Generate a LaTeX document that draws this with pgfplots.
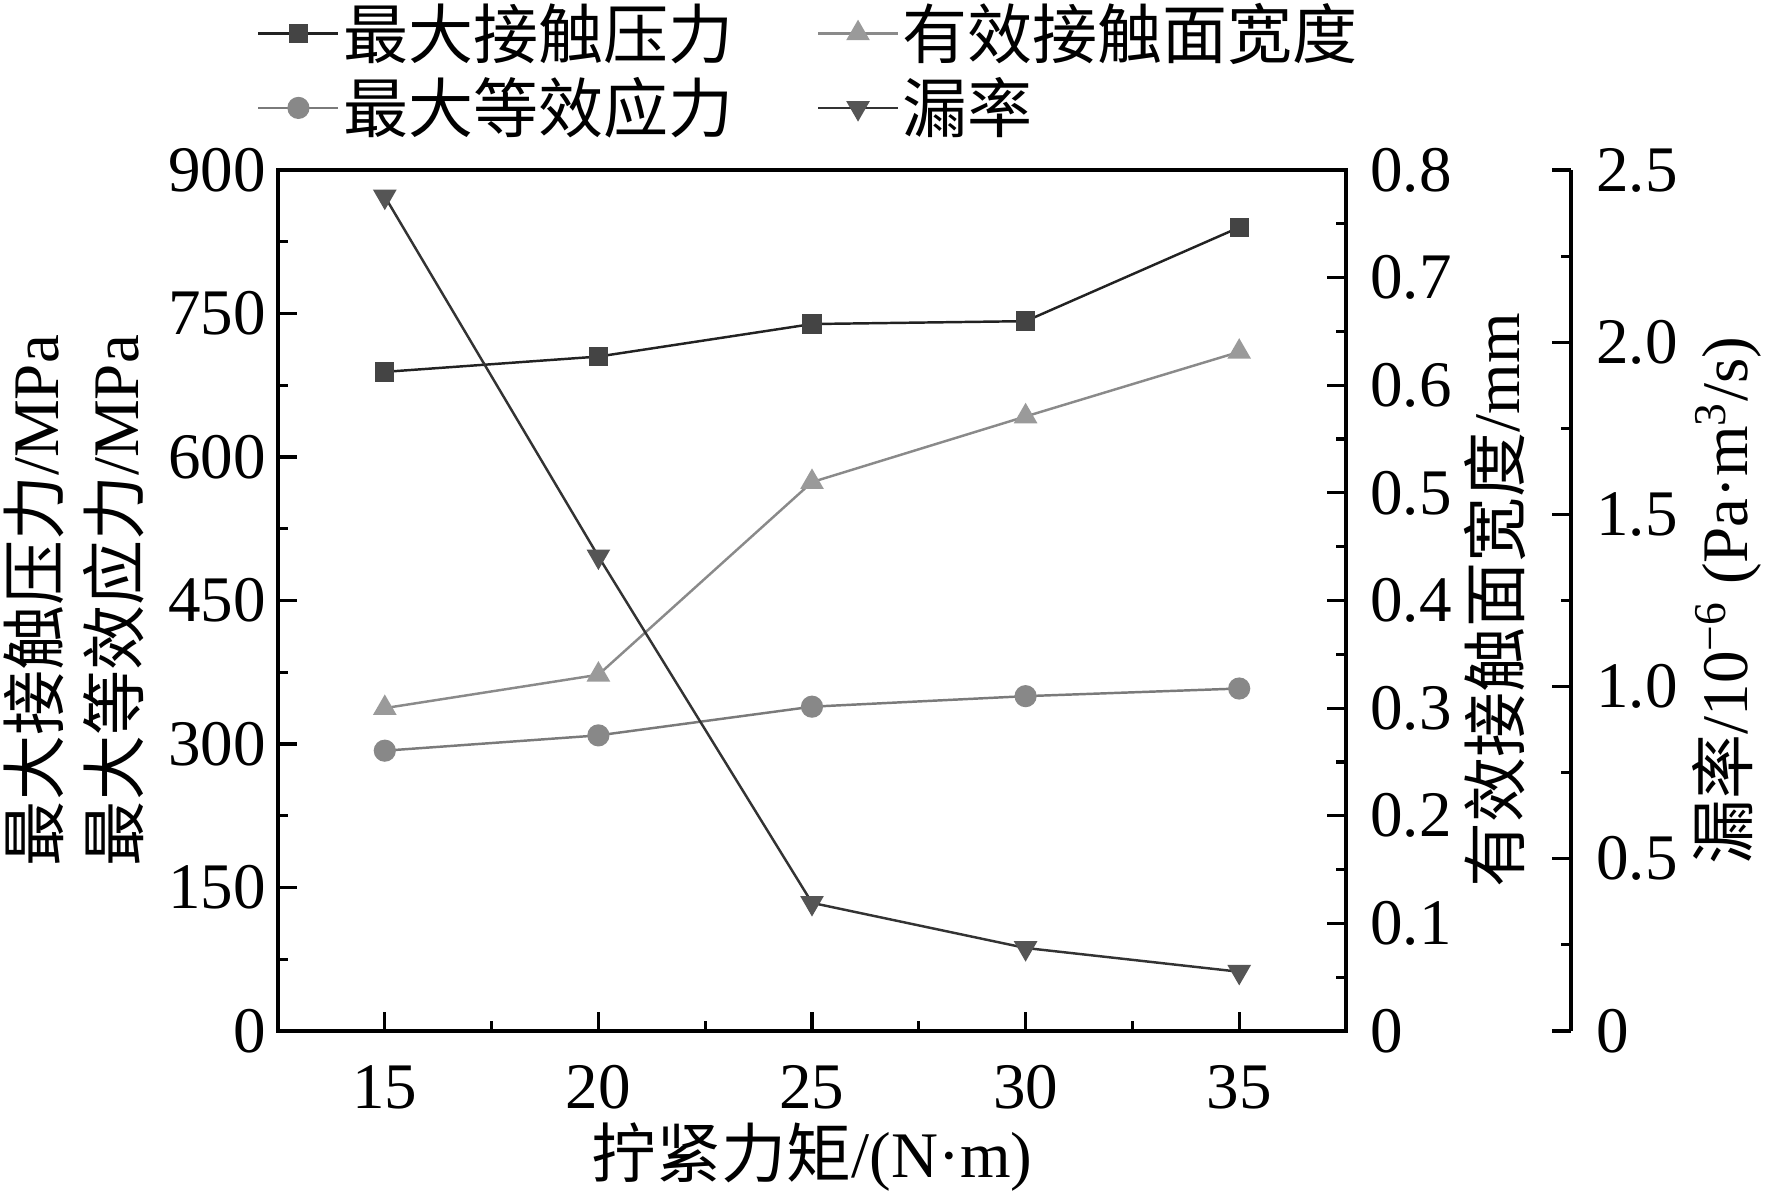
\documentclass[border=0pt]{standalone}
\usepackage{pgfplots}
\pgfplotsset{compat=1.18}
\usepackage{fontspec}
\setmainfont{Liberation Serif}
\newfontfamily\cjk{Noto Sans CJK SC}
\definecolor{cP}{HTML}{444444}
\definecolor{cPl}{HTML}{222222}
\definecolor{cW}{HTML}{9A9A9A}
\definecolor{cWl}{HTML}{8A8A8A}
\definecolor{cS}{HTML}{888888}
\definecolor{cSl}{HTML}{7A7A7A}
\definecolor{cL}{HTML}{555555}
\definecolor{cLl}{HTML}{333333}
\pgfplotsset{
  base/.style={
    width=106.8mm, height=86.1mm, scale only axis,
    xmin=12.5, xmax=37.5,
    tick align=inside,
    major tick length=1.9mm, minor tick length=1.0mm,
    every tick/.style={black, line width=0.9pt},
    axis line style={black, line width=1.1pt, -},
    /pgf/number format/assume math mode=true,
    tick label style={font=\fontsize{18.5}{20}\selectfont},
    label style={font=\fontsize{18.5}{22.7}\selectfont},
  },
}
\begin{document}
\begin{tikzpicture}
\path[use as bounding box] (-27.8mm,-16.5mm) rectangle (149.4mm,103.1mm);
% main axis
\begin{axis}[base,
  ymin=0, ymax=900,
  ytick={0,150,...,900}, minor ytick={75,225,...,825},
  xtick={15,20,25,30,35}, minor xtick={17.5,22.5,27.5,32.5},
  xtick pos=bottom, ytick pos=left,
  xticklabel style={yshift=-2.2mm},
  xlabel={{\cjk 拧紧力矩}/(N·m)},
  xlabel style={at={(axis description cs:0.5,0)}, anchor=center, yshift=-12.6mm},
  ylabel={{\cjk 最大接触压力}/MPa\\{\cjk 最大等效应力}/MPa},
  ylabel style={align=center, at={(axis description cs:-0.191,0.5)}, anchor=center},
  legend columns=2,
  legend cell align=left,
  legend style={draw=none, fill=none, at={(axis description cs:-0.03,1.211)}, anchor=north west,
    font=\fontsize{18.5}{20}\selectfont\cjk,
    row sep=0mm,
    nodes={inner xsep=1pt},
    /tikz/every even column/.append style={column sep=8mm}},
  legend image code/.code={\draw[mark repeat=2,mark phase=2,#1] plot coordinates {(0cm,0cm)(0.4cm,0cm)(0.8cm,0cm)};},
]
\addplot[color=cPl, line width=0.7pt, mark=square*, mark size=2.4pt, mark options={fill=cP, draw=cP}]
  coordinates {(15,689) (20,705) (25,739) (30,742) (35,840)};
\addlegendentry{最大接触压力}
\addlegendimage{color=cWl, line width=0.7pt, mark=triangle*, mark size=3.2pt, mark options={fill=cW, draw=cW}}
\addlegendentry{有效接触面宽度}
\addplot[color=cSl, line width=0.7pt, mark=*, mark size=2.8pt, mark options={fill=cS, draw=cS}]
  coordinates {(15,293) (20,309) (25,339) (30,350) (35,358)};
\addlegendentry{最大等效应力}
\addlegendimage{color=cLl, line width=0.7pt, mark=triangle*, mark size=3.2pt, mark options={fill=cL, draw=cL, rotate=180}}
\addlegendentry{漏率}
\end{axis}
% second axis: width
\begin{axis}[base,
  ymin=0, ymax=0.8,
  hide x axis,
  axis y line*=right,
  ytick={0,0.1,...,0.8}, minor ytick={0.05,0.15,...,0.75},
  yticklabels={0,0.1,0.2,0.3,0.4,0.5,0.6,0.7,0.8},
  yticklabel style={xshift=1.2mm},
  ylabel={{\cjk 有效接触面宽度}/mm},
  ylabel style={at={(axis description cs:1.139,0.5)}, anchor=center},
]
\addplot[color=cWl, line width=0.7pt, mark=triangle*, mark size=3.2pt, mark options={fill=cW, draw=cW}]
  coordinates {(15,0.300) (20,0.331) (25,0.510) (30,0.571) (35,0.631)};
\end{axis}
% third: leak data
\begin{axis}[base,
  ymin=0, ymax=2.5,
  hide x axis, hide y axis,
]
\addplot[color=cLl, line width=0.7pt, mark=triangle*, mark size=3.2pt, mark options={fill=cL, draw=cL, rotate=180}]
  coordinates {(15,2.423) (20,1.378) (25,0.372) (30,0.241) (35,0.172)};
\end{axis}
% offset axis for leak
\begin{axis}[base,
  xshift=22.5mm,
  ymin=0, ymax=2.5,
  hide x axis,
  axis y line*=right,
  ytick={0,0.5,...,2.5}, minor ytick={0.25,0.75,...,2.25},
  yticklabels={0,0.5,1.0,1.5,2.0,2.5},
  yticklabel style={xshift=1.3mm},
  ylabel={{\cjk 漏率}/10\textsuperscript{−6} (Pa·m\textsuperscript{3}/s)},
  ylabel style={at={(axis description cs:1.146,0.5)}, anchor=center},
]
\addplot[draw=none] coordinates {(15,0)};
\end{axis}
\end{tikzpicture}
\end{document}
